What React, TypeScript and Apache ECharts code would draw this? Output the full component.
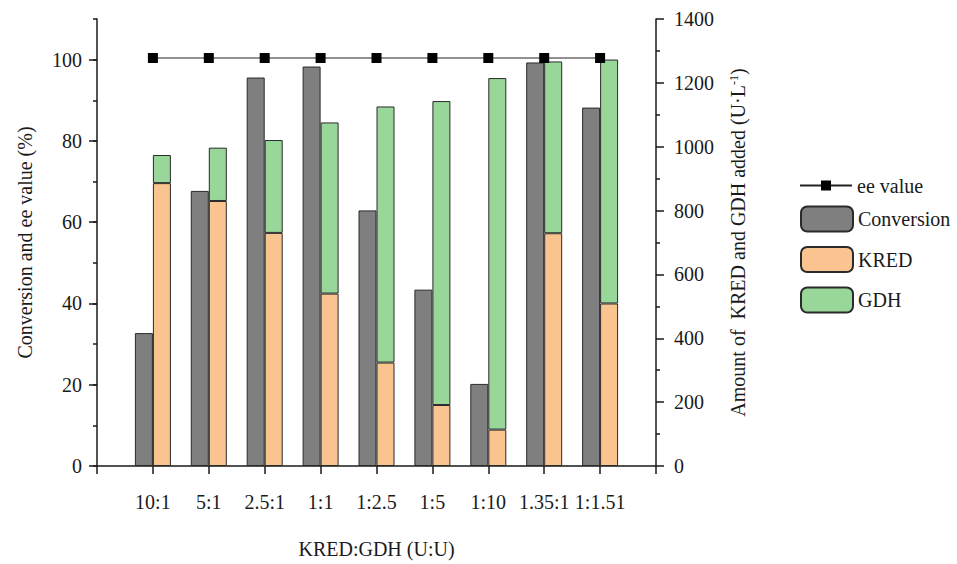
import React, { useEffect, useRef } from 'react';
import * as echarts from 'echarts';

const categories = ['10:1', '5:1', '2.5:1', '1:1', '1:2.5', '1:5', '1:10', '1.35:1', '1:1.51'];
const conversion = [32.7, 67.7, 95.6, 98.3, 62.9, 43.4, 20.2, 99.3, 88.2];
const kred = [886, 830, 730, 540, 324, 191, 114, 729, 509];
const gdh = [88, 167, 291, 536, 802, 952, 1101, 538, 764];
const eeValue = [100.4, 100.4, 100.4, 100.4, 100.4, 100.4, 100.4, 100.4, 100.4];

const leftMin = 0;
const leftMax = 110;
const leftInterval = 20;
const leftMinorInterval = 10;
const rightMin = 0;
const rightMax = 1400;
const rightInterval = 200;

const FONT = 'Liberation Serif';
const INK = '#1a1a1a';

const padCats = (a: string[]) => ['', ...a, ''];
const padVals = (a: number[]) => ['-', ...a, '-'];
const plain = (v: number) => String(v);

export default function App() {
  const ref = useRef<HTMLDivElement>(null);
  useEffect(() => {
    document.body.style.margin = '0';
    if (!ref.current) return;
    const chart = echarts.init(ref.current, undefined, { renderer: 'svg' });
    const textBase = { fontFamily: FONT, fontSize: 20, color: INK };
    chart.setOption({
      animation: false,
      backgroundColor: '#ffffff',
      textStyle: { fontFamily: FONT },
      grid: { left: 97, right: 301, top: 19, bottom: 94, containLabel: false },
      legend: [
        {
          data: ['ee value'],
          orient: 'vertical',
          left: 799,
          top: 175.5,
          padding: 0,
          itemWidth: 52,
          itemHeight: 12.5,
          textStyle: { ...textBase },
        },
        {
          data: ['Conversion', 'KRED', 'GDH'],
          orient: 'vertical',
          left: 800,
          top: 205.5,
          padding: 0,
          itemWidth: 52,
          itemHeight: 25,
          itemGap: 13.5,
          textStyle: { ...textBase },
        },
      ],
      xAxis: {
        type: 'category',
        data: padCats(categories),
        boundaryGap: false,
        name: 'KRED:GDH (U:U)',
        nameLocation: 'middle',
        nameGap: 73,
        nameTextStyle: { ...textBase },
        axisLine: { lineStyle: { color: INK, width: 1.5 } },
        axisTick: { show: true, length: 8, interval: 0, lineStyle: { color: INK, width: 1.5 } },
        axisLabel: { ...textBase, interval: 0, margin: 26 },
        splitLine: { show: false },
      },
      yAxis: [
        {
          type: 'value',
          position: 'left',
          min: leftMin,
          max: leftMax,
          interval: leftInterval,
          name: 'Conversion and ee value (%)',
          nameLocation: 'middle',
          nameGap: 62,
          nameTextStyle: { ...textBase },
          axisLine: { show: true, lineStyle: { color: INK, width: 1.5 } },
          axisTick: { show: true, length: 8, lineStyle: { color: INK, width: 1.5 } },
          axisLabel: { ...textBase, margin: 15, showMaxLabel: false, formatter: plain },
          splitLine: { show: false },
        },
        {
          type: 'value',
          position: 'left',
          min: leftMin,
          max: leftMax,
          interval: leftMinorInterval,
          axisLine: { show: false },
          axisTick: { show: true, length: 4, lineStyle: { color: INK, width: 1.5 } },
          axisLabel: { show: false },
          splitLine: { show: false },
        },
        {
          type: 'value',
          position: 'right',
          min: rightMin,
          max: rightMax,
          interval: rightInterval,
          name: 'Amount of  KRED and GDH added (U·L{sup|-1})',
          nameLocation: 'middle',
          nameGap: 72,
          nameTextStyle: {
            ...textBase,
            rich: {
              sup: { fontFamily: FONT, fontSize: 12, color: INK, verticalAlign: 'top', lineHeight: 20 },
            },
          },
          axisLine: { show: true, lineStyle: { color: INK, width: 1.5 } },
          axisTick: { show: true, length: 8, lineStyle: { color: INK, width: 1.5 } },
          minorTick: { show: true, splitNumber: 2, length: 4, lineStyle: { color: INK, width: 1.5 } },
          axisLabel: { ...textBase, margin: 18, formatter: plain },
          splitLine: { show: false },
        },
      ],
      series: [
        {
          name: 'Conversion',
          type: 'bar',
          yAxisIndex: 0,
          barWidth: 18,
          barGap: '0%',
          data: padVals(conversion),
          itemStyle: { color: '#7f7f7f', borderColor: '#2a2a2a', borderWidth: 1 },
        },
        {
          name: 'KRED',
          type: 'bar',
          yAxisIndex: 2,
          stack: 'enzyme',
          barWidth: 18,
          barGap: '0%',
          data: padVals(kred),
          itemStyle: { color: '#f9c48f', borderColor: '#2a2a2a', borderWidth: 1 },
        },
        {
          name: 'GDH',
          type: 'bar',
          yAxisIndex: 2,
          stack: 'enzyme',
          barWidth: 18,
          barGap: '0%',
          data: padVals(gdh),
          itemStyle: { color: '#98d69a', borderColor: '#2a2a2a', borderWidth: 1 },
        },
        {
          name: 'ee value',
          type: 'line',
          yAxisIndex: 0,
          data: padVals(eeValue),
          symbol: 'rect',
          symbolSize: 10,
          z: 10,
          lineStyle: { color: '#222222', width: 1 },
          itemStyle: { color: '#000000' },
        },
      ],
    });
    return () => chart.dispose();
  }, []);
  return <div ref={ref} style={{ width: 957, height: 564 }} />;
}
